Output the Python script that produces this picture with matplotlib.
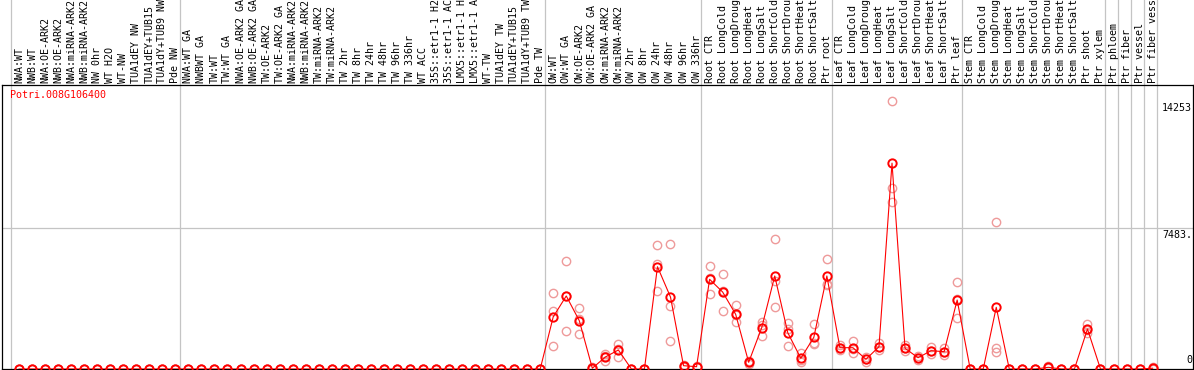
#!/usr/bin/env python3
import numpy as np
import matplotlib
matplotlib.use("Agg")
import matplotlib.pyplot as plt
import matplotlib.transforms as mtransforms


GENE = "Potri.008G106400"

# sample labels, as printed (cut to 14 characters)
LABELS = [
    "NWA:WT", "NWB:WT", "NWA:OE-ARK2", "NWB:OE-ARK2", "NWA:miRNA-ARK2",
    "NWB:miRNA-ARK2", "NW 0hr", "WT H2O", "WT-NW", "TUA1dEY NW",
    "TUA1dEY+TUB15", "TUA1dY+TUB9 NW", "Pde NW",
    "NWA:WT GA", "NWBWT GA", "TW:WT", "TW:WT GA", "NWA:OE-ARK2 GA",
    "NWB:OE-ARK2 GA", "TW:OE-ARK2", "TW:OE-ARK2 GA", "NWA:miRNA-ARK2",
    "NWB:miRNA-ARK2", "TW:miRNA-ARK2", "TW:miRNA-ARK2", "TW 2hr", "TW 8hr",
    "TW 24hr", "TW 48hr", "TW 96hr", "TW 336hr", "WT ACC", "35S::etr1-1 H2",
    "35S::etr1-1 AC", "LMX5::etr1-1 H", "LMX5::etr1-1 A", "WT-TW",
    "TUA1dEY TW", "TUA1dEY+TUB15", "TUA1dY+TUB9 TW", "Pde TW",
    "OW:WT", "OW:WT GA", "OW:OE-ARK2", "OW:OE-ARK2 GA", "OW:miRNA-ARK2",
    "OW:miRNA-ARK2", "OW 2hr", "OW 8hr", "OW 24hr", "OW 48hr", "OW 96hr",
    "OW 336hr",
    "Root CTR", "Root LongCold", "Root LongDroug", "Root LongHeat",
    "Root LongSalt", "Root ShortCold", "Root ShortDrou", "Root ShortHeat",
    "Root ShortSalt", "Ptr root",
    "Leaf CTR", "Leaf LongCold", "Leaf LongDroug", "Leaf LongHeat",
    "Leaf LongSalt", "Leaf ShortCold", "Leaf ShortDrou", "Leaf ShortHeat",
    "Leaf ShortSalt", "Ptr leaf",
    "Stem CTR", "Stem LongCold", "Stem LongDroug", "Stem LongHeat",
    "Stem LongSalt", "Stem ShortCold", "Stem ShortDrou", "Stem ShortHeat",
    "Stem ShortSalt", "Ptr shoot", "Ptr xylem",
    "Ptr phloem", "Ptr fiber", "Ptr vessel", "Ptr fiber vess",
]

# last sample index of each group (separator drawn after it)
GROUP_ENDS = [-1, 12, 40, 52, 62, 72, 83, 84, 85, 86, 87]

MEAN = [0] * 41 + [
    2774, 3884, 2570, 40, 638, 1011, 0, 0, 5439, 3825, 176, 122,
    4770, 4096, 2910, 356, 2197, 4948, 1931, 569, 1686, 4948,
    1133, 1133, 516, 1186, 10950, 1100, 601, 974, 921, 3670,
    0, 0, 3282, 0, 0, 0, 90, 0, 0, 2128, 0,
    0, 0, 0, 40,
]

REP1 = [0] * 41 + [
    4027, 5730, 3229, 80, 798, 1330, 0, 0, 6597, 6650, 230, 160,
    5480, 5038, 3389, 420, 2484, 6900, 2431, 835, 2378, 5852,
    1250, 1490, 640, 1367, 14253, 1250, 700, 1150, 1133, 4612,
    0, 0, 7804, 0, 0, 0, 150, 0, 0, 2394, 0,
    0, 0, 0, 80,
]
REP2 = [0] * 41 + [
    3086, 3900, 2635, 40, 675, 1080, 0, 0, 5570, 3336, 176, 120,
    4857, 4164, 2857, 356, 2335, 4662, 2138, 479, 1366, 4523,
    1133, 1074, 516, 1180, 9613, 1100, 601, 974, 921, 3701,
    0, 0, 1133, 0, 0, 0, 90, 0, 0, 2091, 0,
    0, 0, 0, 40,
]
REP3 = [0] * 41 + [
    1208, 2022, 1846, 0, 441, 622, 0, 0, 4150, 1490, 120, 90,
    3974, 3086, 2484, 290, 1772, 3282, 1224, 393, 1314, 4469,
    1016, 835, 392, 1011, 8900, 950, 500, 800, 745, 2697,
    0, 0, 909, 0, 0, 0, 30, 0, 0, 1899, 0,
    0, 0, 0, 0,
]

Y_TICKS = [14253, 7483, 0]
Y_TICK_TEXT = ["14253", "7483.", "0"]

W, H, DPI = 1194, 370, 100
FONT = "DejaVu Sans Mono"
FS = 7.2
GRID = "#c4c4c4"


def main():
    fig = plt.figure(figsize=(W / DPI, H / DPI), dpi=DPI)
    # plot box in pixels: x 1.5..1193, y 85..369 (from top)
    left, right, top, bottom = 1.5, 1193.0, 85.0, 369.0
    ax = fig.add_axes([left / W, (H - bottom) / H,
                       (right - left) / W, (bottom - top) / H])

    x = np.arange(len(LABELS))
    step = 13.03
    ax.set_xlim((left - 19) / step, (right - 19) / step)
    ax.set_ylim(0, (bottom - top) * 7483 / 140.7)

    for s in ax.spines.values():
        s.set_linewidth(0.9)
        s.set_color("black")
    ax.set_xticks([])
    ax.set_yticks([])

    # separators run up through the label strip
    ext = 1 + top / (bottom - top)
    for k in GROUP_ENDS:
        ax.axvline(k + 0.37, ymin=0, ymax=ext, color=GRID, lw=0.9,
                   clip_on=False, zorder=0)
    ax.axhline(7483, color=GRID, lw=0.9, zorder=0)

    pale = "#ee9a9a"
    for rep in (REP1, REP2, REP3):
        ax.plot(x, rep, ls="none", marker="o", ms=6, mfc="none",
                mec=pale, mew=1.0, zorder=2)
    ax.plot(x, MEAN, color="red", lw=0.8, marker="o", ms=6, mfc="none",
            mec="red", mew=1.4, zorder=3)

    # sample labels above the box
    lab_tr = mtransforms.offset_copy(
        mtransforms.blended_transform_factory(ax.transData, ax.transAxes),
        fig=fig, x=0, y=2, units="dots")
    for i, name in enumerate(LABELS):
        ax.text(i, 1.0, name, rotation=90, ha="center", va="bottom",
                family=FONT, fontsize=FS, transform=lab_tr, clip_on=False)

    ax.text((10 - left) / (right - left), 1 - 5 / (bottom - top), GENE,
            color="red", family=FONT, fontsize=FS, ha="left", va="top",
            transform=ax.transAxes)

    # value marks on the right edge
    ytr = mtransforms.blended_transform_factory(ax.transAxes, ax.transData)
    for v, t in zip(Y_TICKS, Y_TICK_TEXT):
        va = "bottom" if v == 0 else "top"
        dy = 4 if v == 0 else -2
        tr = mtransforms.offset_copy(ytr, fig=fig, x=-1, y=dy, units="dots")
        ax.text(1.0, v, t, ha="right", va=va, family=FONT, fontsize=FS,
                transform=tr)

    fig.savefig("out.png", dpi=DPI)
    plt.close(fig)


if __name__ == "__main__":
    main()
